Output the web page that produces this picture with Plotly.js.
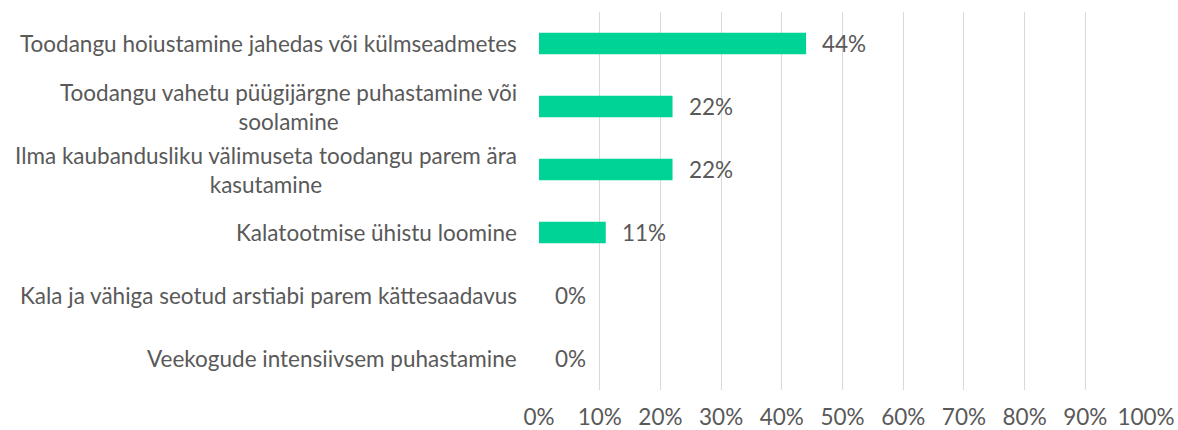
<!DOCTYPE html>
<html>
<head>
<meta charset="utf-8">
<script src="https://cdn.plot.ly/plotly-3.0.1.min.js"></script>
<style>html,body{margin:0;padding:0;background:#fff;}#chart{width:1178px;height:430px;}</style>
</head>
<body>
<div id="chart"></div>
<script>
const categories = [
  "Toodangu hoiustamine jahedas või külmseadmetes",
  "Toodangu vahetu püügijärgne puhastamine või<br>soolamine",
  "Ilma kaubandusliku välimuseta toodangu parem ära<br>kasutamine",
  "Kalatootmise ühistu loomine",
  "Kala ja vähiga seotud arstiabi parem kättesaadavus",
  "Veekogude intensiivsem puhastamine"
];
const values = [0.44, 0.22, 0.22, 0.11, 0.00, 0.00];
const valueLabels = ["44%", "22%", "22%", "11%", "0%", "0%"];
const tickVals = [0, 0.1, 0.2, 0.3, 0.4, 0.5, 0.6, 0.7, 0.8, 0.9, 1.0];
const tickLabels = ["0%", "10%", "20%", "30%", "40%", "50%", "60%", "70%", "80%", "90%", "100%"];

const FONT = "Lato, Open Sans, sans-serif";
const FS = 22.5;
const TXT = "#595959";
const ids = categories.map((c, i) => "c" + i);

const trace = {
  type: "bar",
  orientation: "h",
  x: values,
  y: ids,
  marker: {color: "#00D396"},
  width: 0.34,
  hoverinfo: "skip"
};

const annotations = [];
categories.forEach((c, i) => {
  annotations.push({
    xref: "paper", yref: "y", x: 0, y: ids[i], xshift: -20,
    xanchor: "right", yanchor: "middle", align: "center",
    text: c, showarrow: false,
    font: {family: FONT, size: FS, color: TXT}
  });
  annotations.push({
    xref: "x", yref: "y", x: values[i], y: ids[i], xshift: 14,
    xanchor: "left", yanchor: "middle",
    text: valueLabels[i], showarrow: false,
    font: {family: FONT, size: FS, color: TXT}
  });
});

const layout = {
  width: 1178, height: 430,
  margin: {l: 539, r: 32, t: 12, b: 40},
  paper_bgcolor: "#fff", plot_bgcolor: "#fff",
  showlegend: false,
  bargap: 0.66,
  xaxis: {
    range: [0, 1], tickvals: tickVals, ticktext: tickLabels,
    showgrid: true, gridcolor: "#d9d9d9", gridwidth: 1,
    zeroline: false, showline: false,
    ticklabelstandoff: 11,
    tickfont: {family: FONT, size: FS, color: TXT},
    fixedrange: true
  },
  yaxis: {
    type: "category", autorange: "reversed",
    showticklabels: false, showgrid: false, zeroline: false, showline: false,
    fixedrange: true
  },
  annotations: annotations,
  font: {family: FONT, color: TXT}
};

Plotly.newPlot("chart", [trace], layout, {displayModeBar: false, staticPlot: true});
</script>
</body>
</html>
